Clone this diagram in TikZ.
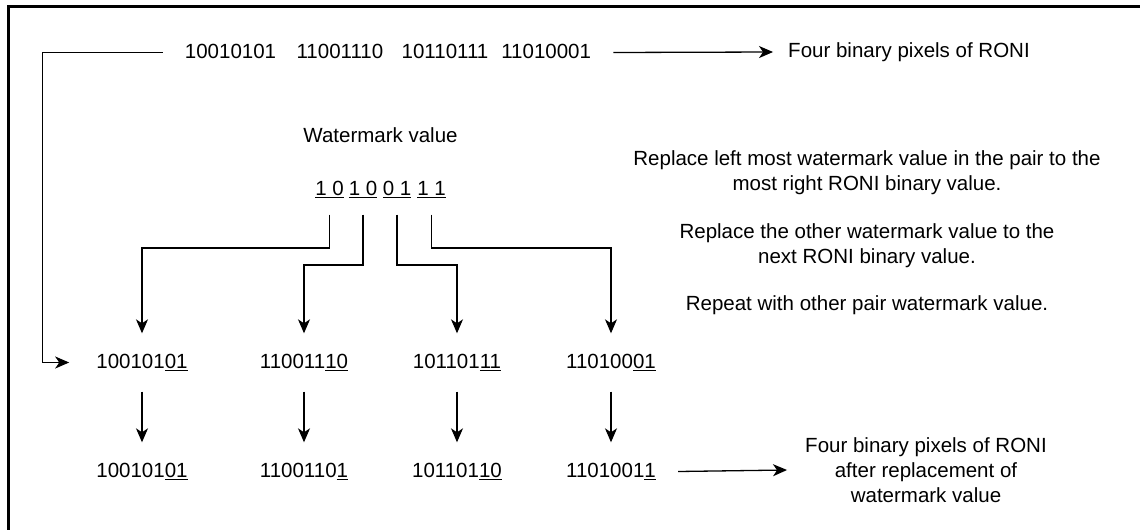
\documentclass[tikz,border=0pt]{standalone}
\usepackage{fontspec}
\setmainfont{Liberation Sans}
\usetikzlibrary{arrows.meta}

\begin{document}
\begin{tikzpicture}[x=1pt, y=-1pt, font=\fontsize{20.5}{25}\selectfont]
        % Style definitions
        \tikzset{
            num/.style={inner xsep=24pt, inner ysep=20pt, text height=15pt, text depth=3pt},
            pair/.style={inner xsep=0pt, inner ysep=16pt, text height=15pt, text depth=3pt},
            note/.style={align=center, inner xsep=16pt},
            wire/.style={black, line width=1.3pt, -{Stealth[length=14pt, width=12pt, inset=4pt]}},
            frame/.style={black, line width=3pt}
        }
        \useasboundingbox (0,0) rectangle (1140,530);
        \draw[frame] (1140,6) -- (8,6) -- (8,530);

        % ==========================================
        % TOP ROW (four binary pixels of RONI)
        % ==========================================
        \node[num, inner xsep=22pt] (pixels) at (388,52.5) {10010101\hspace{20.5pt}11001110\hspace{18.5pt}10110111\hspace{13pt}11010001};
        \node[note, inner xsep=15pt] (pixlabel) at (909,52) {Four binary pixels of RONI};

        % ==========================================
        % WATERMARK VALUE (pairs)
        % ==========================================
        \node (wmlabel) at (380.5,135) {Watermark value};
        \node[pair] (p1) at (329.5,189.5) {\underline{1 0}};
        \node[pair] (p2) at (363,189.5) {\underline{1 0}};
        \node[pair] (p3) at (397,189.5) {\underline{0 1}};
        \node[pair] (p4) at (431.5,189.5) {\underline{1 1}};

        % Replacement rules
        \node[note] (step1) at (867,172.5) {Replace left most watermark value in the pair to the\\most right RONI binary value.};
        \node[note] (step2) at (867,245.5) {Replace the other watermark value to the\\next RONI binary value.};
        \node[note] (step3) at (867,305) {Repeat with other pair watermark value.};

        % ==========================================
        % MIDDLE AND BOTTOM ROWS
        % ==========================================
        \node[num, inner xsep=27pt] (m1) at (142,362.5) {100101\underline{01}};
        \node[num] (m2) at (304,362.5) {110011\underline{10}};
        \node[num] (m3) at (457,362.5) {101101\underline{11}};
        \node[num] (m4) at (611,362.5) {110100\underline{01}};
        \node[num] (b1) at (142,471.5) {100101\underline{01}};
        \node[num] (b2) at (304,471.5) {1100110\underline{1}};
        \node[num] (b3) at (457,471.5) {101101\underline{10}};
        \node[num, inner xsep=22pt] (b4) at (611,471.5) {1101001\underline{1}};
        \node[note, inner xsep=18pt] (newlabel) at (926,470) {Four binary pixels of RONI\\after replacement of\\watermark value};

        % Connectors
        \draw[wire] (pixels.east) -- (pixlabel.west);
        \draw[wire] (pixels.west) -- ++(-120,0) |- (m1.west);
        \draw[wire] (p1.south) -- (p1.south |- 0,248) -| (m1.north);
        \draw[wire] (p2.south) -- (p2.south |- 0,265) -| (m2.north);
        \draw[wire] (p3.south) -- (p3.south |- 0,265) -| (m3.north);
        \draw[wire] (p4.south) -- (p4.south |- 0,248) -| (m4.north);
        \draw[wire] (m1.south) -- (b1.north);
        \draw[wire] (m2.south) -- (b2.north);
        \draw[wire] (m3.south) -- (b3.north);
        \draw[wire] (m4.south) -- (b4.north);
        \draw[wire] (b4.east) -- (newlabel.west);
    \end{tikzpicture}
\end{document}
